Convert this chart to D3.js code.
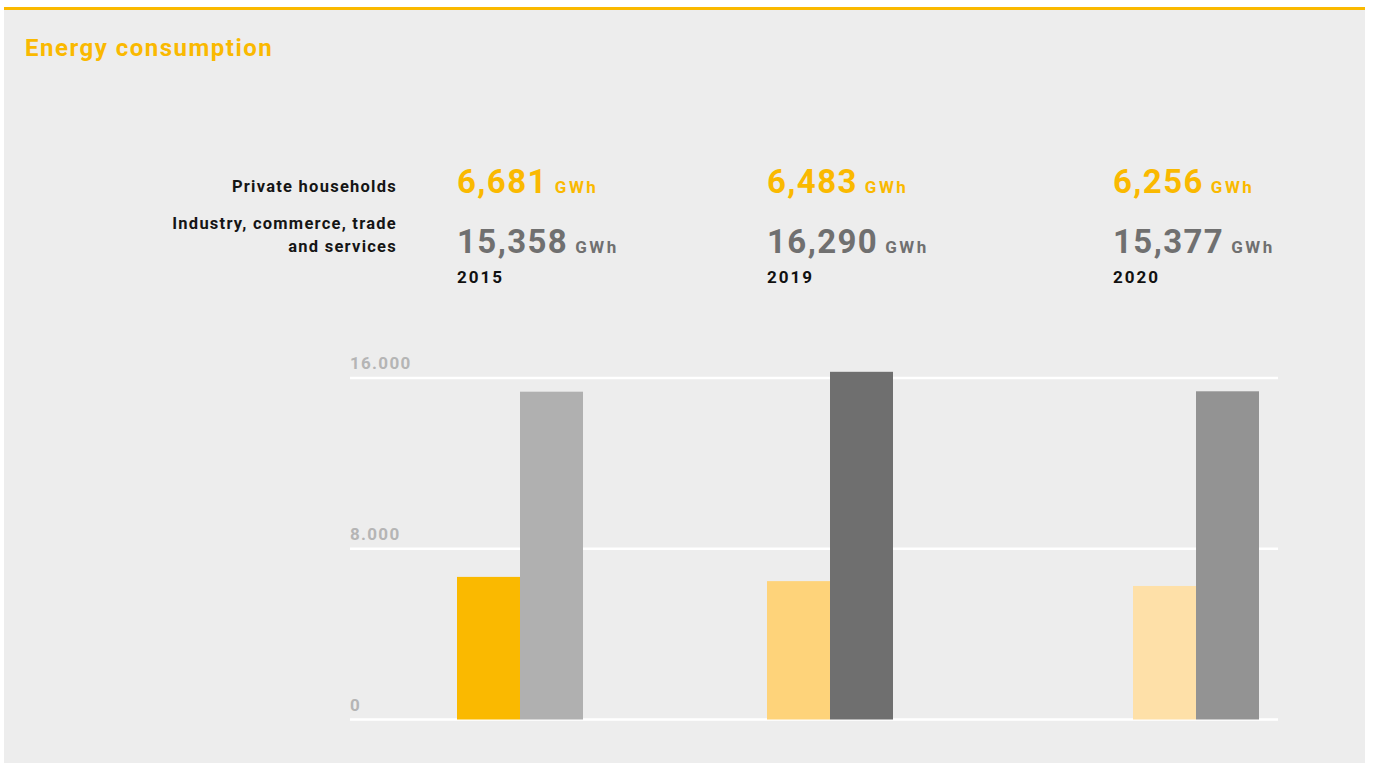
<!DOCTYPE html>
<html>
<head>
<meta charset="utf-8">
<script src="https://cdn.jsdelivr.net/npm/d3@7"></script>
<style>
  html, body { margin: 0; padding: 0; background: #ffffff; }
  svg { display: block; font-family: Roboto, "Noto Sans", sans-serif; }
</style>
</head>
<body>
<svg id="chart" width="1373" height="763"></svg>
<script>
// Energy consumption in GWh by sector and year
const years = ["2015", "2019", "2020"];
const households = [6681, 6483, 6256];
const industry = [15358, 16290, 15377];
const yTicks = [0, 8000, 16000];
const tickLabels = ["0", "8.000", "16.000"];
const sectorLabels = ["Private households", ["Industry, commerce, trade", "and services"]];

// Per-year shades: households (yellow) and industry (grey)
const householdColors = ["#fab900", "#fed37a", "#fee0a8"];
const industryColors = ["#b0b0b0", "#6f6f6f", "#939393"];

const svg = d3.select("#chart");
const W = 1373, H = 763;

// Panel background and top rule
svg.append("rect").attr("x", 4).attr("y", 9).attr("width", 1361).attr("height", H - 9).attr("fill", "#ededed");
svg.append("rect").attr("x", 4).attr("y", 7).attr("width", 1361).attr("height", 3).attr("fill", "#fab900");

svg.append("text")
  .attr("x", 25).attr("y", 56)
  .attr("fill", "#fab900")
  .attr("font-size", 24).attr("font-weight", 700)
  .attr("letter-spacing", "1.5px")
  .text("Energy consumption");

// Scales
const y = d3.scaleLinear().domain([0, 16000]).range([719.5, 378]);
const barW = 63;
const xGroup = d3.scaleOrdinal().domain(years).range([457, 767, 1133]);
const xText = d3.scaleOrdinal().domain(years).range([457, 767, 1113]);
const gridLeft = 350, gridRight = 1278;

// Grid lines and tick labels
const grid = svg.append("g");
grid.selectAll("line").data(yTicks).join("line")
  .attr("x1", gridLeft).attr("x2", gridRight)
  .attr("y1", d => y(d)).attr("y2", d => y(d))
  .attr("stroke", "#ffffff").attr("stroke-width", 2.5);
grid.selectAll("text").data(yTicks).join("text")
  .attr("x", gridLeft).attr("y", d => y(d) - 9)
  .attr("fill", "#b5b5b5")
  .attr("font-size", 17).attr("font-weight", 700)
  .attr("letter-spacing", "1.3px")
  .text((d, i) => tickLabels[i]);

// Bars
const bars = svg.append("g");
bars.selectAll("rect.hh").data(years).join("rect")
  .attr("class", "hh")
  .attr("x", d => xGroup(d)).attr("width", barW)
  .attr("y", (d, i) => y(households[i]))
  .attr("height", (d, i) => y(0) - y(households[i]))
  .attr("fill", (d, i) => householdColors[i]);
bars.selectAll("rect.ind").data(years).join("rect")
  .attr("class", "ind")
  .attr("x", d => xGroup(d) + barW).attr("width", barW)
  .attr("y", (d, i) => y(industry[i]))
  .attr("height", (d, i) => y(0) - y(industry[i]))
  .attr("fill", (d, i) => industryColors[i]);

// Sector labels on the left
const lab = svg.append("g").attr("text-anchor", "end").attr("fill", "#151515")
  .attr("font-size", 16.5).attr("font-weight", 700).attr("letter-spacing", "1.25px");
lab.append("text").attr("x", 397).attr("y", 192).text(sectorLabels[0]);
lab.append("text").attr("x", 397).attr("y", 229).text(sectorLabels[1][0]);
lab.append("text").attr("x", 397).attr("y", 252).text(sectorLabels[1][1]);

// Value headlines per year
const fmt = d3.format(",");
const heads = svg.append("g").selectAll("g").data(years).join("g")
  .attr("transform", d => `translate(${xText(d)},0)`);

function valueLine(sel, values, color, baseline) {
  const t = sel.append("text").attr("y", baseline).attr("fill", color).attr("font-weight", 700);
  t.append("tspan").attr("font-size", 33).attr("letter-spacing", "1.4px").text((d, i) => fmt(values[i]));
  t.append("tspan").attr("font-size", 17).attr("dx", 7).attr("letter-spacing", "2.5px").text("GWh");
}
valueLine(heads, households, "#fab900", 193);
valueLine(heads, industry, "#707070", 253);
heads.append("text").attr("y", 283).attr("fill", "#111111")
  .attr("font-size", 17).attr("font-weight", 700).attr("letter-spacing", "2px").text(d => d);
</script>
</body>
</html>
